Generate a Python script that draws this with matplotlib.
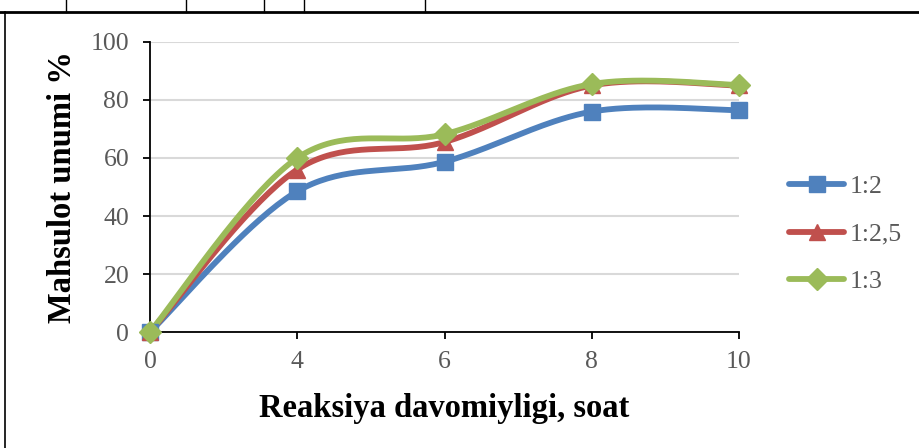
import numpy as np
import matplotlib
matplotlib.use("Agg")
import matplotlib.pyplot as plt
from matplotlib.lines import Line2D

# ---- data ----
categories = ["0", "4", "6", "8", "10"]
series_names = ["1:2", "1:2,5", "1:3"]
s_12 = [0, 48.5, 58.7, 76.0, 76.5]
s_125 = [0, 56.0, 65.5, 85.0, 85.0]
s_13 = [0, 60.0, 68.2, 85.5, 85.2]
y_ticks = [0, 20, 40, 60, 80, 100]

colors = ["#4f81bd", "#c0504d", "#9bbb59"]
markers = ["s", "^", "D"]
msizes = [12, 12, 10.8]

SERIF = ["Liberation Serif", "DejaVu Serif"]


def smooth(xs, ys, n=40):
    P = np.column_stack([xs, ys]).astype(float)
    m = len(P)
    out = [P[0]]
    for i in range(m - 1):
        p0 = P[i - 1] if i > 0 else P[i]
        p1 = P[i]
        p2 = P[i + 1]
        p3 = P[i + 2] if i + 2 < m else P[i + 1]
        c1 = p1 + (p2 - p0) / 6.0
        c2 = p2 - (p3 - p1) / 6.0
        t = np.linspace(0, 1, n)[1:, None]
        seg = ((1 - t) ** 3) * p1 + 3 * ((1 - t) ** 2) * t * c1 + 3 * (1 - t) * t ** 2 * c2 + t ** 3 * p2
        out.extend(seg)
    out = np.array(out)
    return out[:, 0], out[:, 1]


fig = plt.figure(figsize=(9.19, 4.48), dpi=100)
W, H = 919, 448
ax = fig.add_axes([150 / W, 1 - 332 / H, (739 - 150) / W, (332 - 42) / H])

x = np.arange(len(categories))
handles = []
for vals, c, mk, ms, name in zip([s_12, s_125, s_13], colors, markers, msizes, series_names):
    sx, sy = smooth(x, vals)
    ax.plot(sx, sy, color=c, lw=4.2, solid_capstyle="round", zorder=3)
    ax.plot(x, vals, linestyle="none", marker=mk, markersize=ms, color=c, zorder=4, clip_on=False)
    handles.append(Line2D([0], [0], color=c, lw=4.2, marker=mk, markersize=ms,
                          solid_capstyle="round"))

ax.set_xlim(0, len(categories) - 1)
ax.set_ylim(0, 100)
ax.set_xticks(x)
ax.set_xticklabels(categories)
ax.set_yticks(y_ticks)
ax.grid(axis="y", color="#d9d9d9", lw=1.5, zorder=0)
ax.set_axisbelow(True)
for s in ["top", "right"]:
    ax.spines[s].set_visible(False)
for s in ["left", "bottom"]:
    ax.spines[s].set_color("black")
    ax.spines[s].set_linewidth(1.3)
    ax.spines[s].set_zorder(2)
ax.tick_params(axis="both", direction="out", length=5, width=1.3, color="black",
               labelcolor="#595959", labelsize=18.5)
ax.tick_params(axis="y", pad=10)
ax.tick_params(axis="x", pad=9)
for lab in ax.get_xticklabels() + ax.get_yticklabels():
    lab.set_fontfamily(SERIF)

ax.set_xlabel("Reaksiya davomiyligi, soat", fontsize=23.5, fontweight="bold",
              family=SERIF, labelpad=14)
ax.set_ylabel("Mahsulot unumi %", fontsize=23.5, fontweight="bold",
              family=SERIF, labelpad=9)

leg = fig.legend(handles, series_names, loc="center left",
                 bbox_to_anchor=(789 / W, 1 - 234 / H), frameon=False,
                 prop={"family": SERIF, "size": 18.5}, handlelength=2.15,
                 handletextpad=0.2, labelspacing=0.97, borderaxespad=0,
                 borderpad=0)
for t in leg.get_texts():
    t.set_color("#595959")

# table borders from the surrounding document
def fline(xs, ys, lw):
    fig.add_artist(Line2D([v / W for v in xs], [1 - v / H for v in ys],
                          color="black", lw=lw, transform=fig.transFigure))

fline([0, W], [12, 12], 2.0)
for vx in [66, 186, 264, 304, 425]:
    fline([vx, vx], [0, 12], 1.0)
fline([5, 5], [12, H], 1.2)

fig.savefig("out.png", dpi=100)
